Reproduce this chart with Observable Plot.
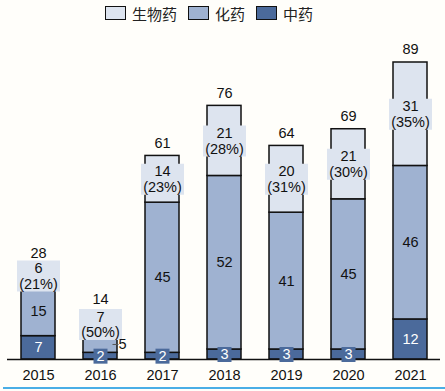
<!DOCTYPE html>
<html><head><meta charset="utf-8">
<script src="https://cdn.jsdelivr.net/npm/d3@7"></script>
<script src="https://cdn.jsdelivr.net/npm/@observablehq/plot@0.6"></script>
<style>
body{margin:0;background:#fffefa;font-family:"Liberation Sans",Arial,sans-serif;}
#wrap{position:relative;width:445px;height:391px;overflow:hidden}
#legend{height:26px;display:flex;align-items:center;padding-left:105px;font-family:"Noto Sans CJK SC",sans-serif;font-size:15px;color:#222}
.sw{width:19px;height:12px;border:1.5px solid #111;margin-right:6px}
.item{display:flex;align-items:center;margin-right:11px}
#blue{position:absolute;left:3px;top:387px;width:442px;height:2px;background:#4aaee6}
</style></head>
<body><div id="wrap"><div id="legend"></div><div id="chart"></div><div id="blue"></div></div>
<script>
const years = ["2015","2016","2017","2018","2019","2020","2021"];
const tcm = [7, 2, 2, 3, 3, 3, 12];          // 中药
const chem = [15, 5, 45, 52, 41, 45, 46];    // 化药
const bio = [6, 7, 14, 21, 20, 21, 31];      // 生物药
const bioPct = ["21%","50%","23%","28%","31%","30%","35%"];
const totals = [28, 14, 61, 76, 64, 69, 89];
const seriesNames = ["生物药","化药","中药"];
const seriesColors = ["#dde4ef","#9fb2d1","#4b6a9b"];

// legend
const lg = document.getElementById("legend");
seriesNames.forEach((s, i) => {
  const it = document.createElement("div"); it.className = "item";
  const sw = document.createElement("div"); sw.className = "sw"; sw.style.background = seriesColors[i];
  const t = document.createElement("span"); t.textContent = s;
  it.append(sw, t); lg.append(it);
});

const rows = years.flatMap((yr, i) => [
  {year: yr, series: "中药", y1: 0, y2: tcm[i], v: tcm[i]},
  {year: yr, series: "化药", y1: tcm[i], y2: tcm[i] + chem[i], v: chem[i]},
  {year: yr, series: "生物药", y1: tcm[i] + chem[i], y2: tcm[i] + chem[i] + bio[i], v: bio[i]}
]);
const mid = d => (d.y1 + d.y2) / 2;
const bioRows = rows.filter(d => d.series === "生物药").map((d, i) => ({...d, label: `${d.v}\n(${bioPct[i]})`}));
const chemRows = rows.filter(d => d.series === "化药");
const tcmRows = rows.filter(d => d.series === "中药");
const totRows = years.map((yr, i) => ({year: yr, t: totals[i]}));

const rectSym = (w, h) => ({draw(ctx) { ctx.rect(-w/2, -h/2, w, h); }});
const dashSym = {draw(ctx) { ctx.moveTo(-3, 0); ctx.lineTo(3, 0); }};

const fs = 14.5;
const chart = Plot.plot({
  width: 445, height: 365,
  marginLeft: 7, marginRight: 5, marginTop: 36, marginBottom: 32,
  style: {background: "transparent", fontFamily: "'Liberation Sans', Arial, sans-serif"},
  x: {domain: years, paddingInner: 0.453, paddingOuter: 0.207, label: null},
  y: {domain: [0, 89], axis: null},
  color: {domain: seriesNames, range: seriesColors},
  marks: [
    Plot.barY(rows, {x: "year", y1: "y1", y2: "y2", fill: "series", stroke: "#111", strokeWidth: 1.5}),
    Plot.ruleY([0], {stroke: "#111", strokeWidth: 1.5}),
    Plot.dot(bioRows, {x: "year", y: mid, symbol: rectSym(43, 31), fill: "#dde4ef", r: 5}),
    Plot.text(bioRows, {x: "year", y: mid, text: "label", fontSize: fs, lineHeight: 1.08, fill: "#111"}),
    Plot.text(chemRows.filter(d => d.v > 10), {x: "year", y: mid, text: "v", fontSize: fs, fill: "#111"}),
    Plot.dot(chemRows.filter(d => d.v <= 10), {x: "year", y: mid, symbol: dashSym, stroke: "#555", strokeWidth: 1, r: 5, dx: 15}),
    Plot.text(chemRows.filter(d => d.v <= 10), {x: "year", y: mid, text: "v", fontSize: fs, fill: "#111", dx: 22}),
    Plot.dot(tcmRows, {x: "year", y: mid, symbol: rectSym(14, 15), fill: "#4b6a9b", r: 5}),
    Plot.text(tcmRows, {x: "year", y: mid, text: "v", fontSize: fs, fill: "white"}),
    Plot.text(totRows, {x: "year", y: "t", text: "t", fontSize: fs, fill: "#111", dy: -13}),
    Plot.axisX({tickSize: 0, tickPadding: 10, fontSize: fs, label: null, color: "#111"})
  ]
});
document.getElementById("chart").append(chart);
</script>
</body></html>
